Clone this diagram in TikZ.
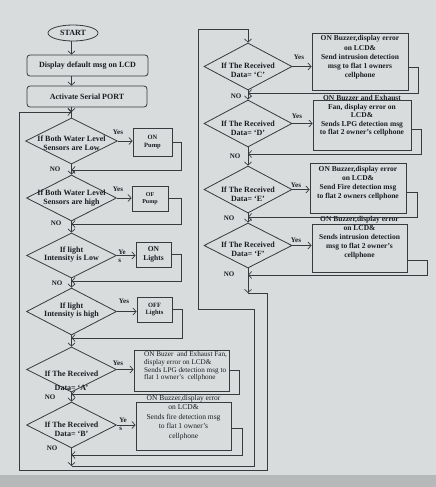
\documentclass[tikz,border=0pt]{standalone}
\usepackage{fontspec}
\setmainfont{Liberation Serif}
\usetikzlibrary{arrows.meta,shapes.geometric}
\definecolor{fcpaper}{RGB}{217,220,220}
\definecolor{fcedge}{RGB}{182,184,186}
\definecolor{fcline}{RGB}{55,58,62}
\definecolor{fcink}{RGB}{28,28,36}

\begin{document}
\begin{tikzpicture}[x=1pt,y=-1pt,
  terminal/.style={ellipse,draw=fcline,line width=0.8pt,minimum width=50pt,minimum height=16pt,inner sep=0pt,
     font=\bfseries\fontsize{8}{9}\selectfont,text=fcink},
  procbox/.style={draw=fcline,line width=0.8pt,rounded corners=3pt,minimum height=21pt,inner sep=0pt,
     font=\bfseries\fontsize{8}{9}\selectfont,text=fcink},
  decision/.style={diamond,draw=fcline,line width=0.8pt,inner sep=0pt,minimum width=90pt,minimum height=46pt},
  dtext/.style={align=center,font=\bfseries\fontsize{8}{8.6}\selectfont,text=fcink},
  smallbox/.style={draw=fcline,line width=0.8pt,inner sep=0pt,align=center,text=fcink},
  msgbox/.style={draw=fcline,line width=0.8pt,inner sep=0pt},
  msgtxt/.style={align=center,font=\bfseries\fontsize{7.5}{9}\selectfont,text=fcink},
  flow/.style={-{Straight Barb[length=3.2pt,width=7pt]},draw=fcline,line width=0.7pt},
  link/.style={draw=fcline,line width=0.7pt},
  ans/.style={font=\bfseries\fontsize{7}{8}\selectfont,text=fcink,inner sep=0pt}
]
\fill[fcpaper] (0,0) rectangle (436,487);
\fill[fcedge] (0,475) rectangle (436,487);
\useasboundingbox (0,0) rectangle (436,487);

\node[terminal] (start) at (73,33) {START};
\node[procbox,minimum width=121pt] (disp) at (87.5,65.5) {Display default msg on LCD};
\node[procbox,minimum width=120pt] (serial) at (87,96.5) {Activate Serial PORT};

\node[decision,minimum width=92pt,label={[dtext,yshift=-2pt]center:{If Both Water Level\\Sensors are Low}}] (lowlvl) at (71.5,141) {};
\node[decision,label={[dtext]center:{If Both Water Level\\Sensors are high}}] (highlvl) at (71.5,198) {};
\node[decision,minimum height=45pt,label={[dtext,yshift=1pt]center:{If light\\Intensity is Low}}] (lowlux) at (71.5,255.5) {};
\node[decision,minimum height=47pt,label={[dtext,yshift=1pt]center:{If light\\Intensity is high}}] (highlux) at (71.5,311.5) {};
\node[decision,minimum height=45pt,label={[dtext,yshift=-11pt]center:{If The Received\\[5pt]Data= `A'}}] (dataA) at (71.5,369.5) {};
\node[decision,label={[dtext,yshift=-4pt]center:{If The Received\\Data= `B'}}] (dataB) at (71.5,425) {};

\node[smallbox,minimum width=39pt,minimum height=28pt,font=\bfseries\fontsize{6.5}{8}\selectfont] (pumpon) at (152.5,142) {ON\\Pump};
\node[smallbox,minimum width=36pt,minimum height=25pt,font=\bfseries\fontsize{6}{7}\selectfont] (pumpoff) at (150,198.5) {OF\\Pump};
\node[smallbox,minimum width=35pt,minimum height=25pt,font=\bfseries\fontsize{7.5}{9}\selectfont] (lighton) at (153.5,254.5) {ON\\Lights};
\node[smallbox,minimum width=35pt,minimum height=25pt,font=\bfseries\fontsize{6.5}{7.5}\selectfont] (lightoff) at (154.5,309.5) {OFF\\Lights};
\node[msgbox,minimum width=95pt,minimum height=41pt,
  label={[msgtxt,align=left,font=\fontsize{7.2}{7.7}\selectfont,anchor=west,xshift=7pt,yshift=4pt]west:{ON Buzer\ \ and Exhaust Fan,\\display error on LCD\&\\Sends LPG detection msg to\\flat 1 owner's\ \ cellphone}}] (lpgA) at (181.5,370.5) {};
\node[msgbox,minimum width=95pt,minimum height=48pt,
  label={[msgtxt,font=\fontsize{7.5}{9.4}\selectfont,yshift=8.5pt]center:{ON Buzzer,display error\\on LCD\&\\Sends fire detection msg\\to flat 1 owner's\\cellphone}}] (fireB) at (183.5,426) {};

\node[decision,minimum width=88pt,minimum height=47pt,label={[dtext,yshift=-4pt]center:{If The Received\\Data= `C'}}] (dataC) at (248,66.5) {};
\node[decision,minimum width=88pt,minimum height=47pt,label={[dtext,yshift=-4.5pt]center:{If The Received\\Data= `D'}}] (dataD) at (248,123.5) {};
\node[decision,minimum width=88pt,minimum height=47pt,label={[dtext,yshift=-4.5pt]center:{If The Received\\Data= `E'}}] (dataE) at (248,189.5) {};
\node[decision,minimum width=88pt,minimum height=45pt,label={[dtext,yshift=-3.5pt]center:{If The Received\\Data= `F'}}] (dataF) at (248,245.5) {};

\node[msgbox,minimum width=96pt,minimum height=57pt,
  label={[msgtxt,font=\bfseries\fontsize{7.5}{9.2}\selectfont,yshift=4pt]center:{ON Buzzer,display error\\on LCD\&\\Send intrusion detection\\msg to flat 1 owners\\cellphone}}] (intrC) at (360,61.5) {};
\node[msgbox,minimum width=98pt,minimum height=50pt,
  label={[msgtxt,font=\bfseries\fontsize{7.5}{8.5}\selectfont,yshift=9pt]center:{ON Buzzer and Exhaust\\Fan, display error on\\LCD\&\\Sends LPG detection msg\\to flat 2 owner's cellphone}}] (lpgD) at (362,125) {};
\node[msgbox,minimum width=96pt,minimum height=50pt,
  label={[msgtxt,yshift=4.5pt]center:{ON Buzzer,display error\\on LCD\&\\Send Fire detection msg\\to flat 2 owners cellphone}}] (fireE) at (358,188) {};
\node[msgbox,minimum width=95pt,minimum height=48pt,
  label={[msgtxt,yshift=10pt]center:{ON Buzzer,display error\\on LCD\&\\Sends intrusion detection\\msg to flat 2 owner's\\cellphone}}] (intrF) at (359.5,248) {};

\node[ans] (yes1) at (118,132) {Yes};
\node[ans] (yes2) at (118,189) {Yes};
\node[ans,align=left] (yes3) at (122,256) {Ye\\s};
\node[ans] (yes4) at (124,301) {Yes};
\node[ans] (yes5) at (118,363) {Yes};
\node[ans,align=left] (yes6) at (123,424) {Ye\\s};
\node[ans] (yes7) at (299,57) {Yes};
\node[ans] (yes8) at (297,116) {Yes};
\node[ans] (yes9) at (296,185) {Yes};
\node[ans] (yes10) at (296,240) {Yes};
\node[ans] (no1) at (55,169) {NO};
\node[ans] (no2) at (56,223) {NO};
\node[ans] (no3) at (57,283) {NO};
\node[ans] (no5) at (50,397) {NO};
\node[ans] (no6) at (52,448) {NO};
\node[ans] (no7) at (236,96) {NO};
\node[ans] (no8) at (235,156) {NO};
\node[ans] (no9) at (229,218) {NO};
\node[ans] (no10) at (229,274) {NO};

\coordinate (j0) at (71.5,112);
\coordinate (j1) at (71.5,170);
\coordinate (j2) at (71.5,224);
\coordinate (j3) at (71.5,281);
\coordinate (j4) at (71.5,338);
\coordinate (j5) at (71.5,394);
\coordinate (j6) at (71.5,455);
\coordinate (jA) at (71.5,466);
\coordinate (k7) at (248,93);
\coordinate (k8) at (248,154);
\coordinate (k9) at (248,217);
\coordinate (k10) at (248,275);
\coordinate (jF) at (248,293);

\draw[flow] (start.south -| lowlvl) -- (disp.north -| lowlvl);
\draw[flow] (disp.south -| lowlvl) -- (serial.north -| lowlvl);
\draw[flow] (serial.south -| lowlvl) -- (j0);
\draw[link] (j0) -- (lowlvl.north);
\draw[flow] (lowlvl.south) -- (highlvl.north);
\draw[flow] (highlvl.south) -- (lowlux.north);
\draw[flow] (lowlux.south) -- (highlux.north);
\draw[flow] (highlux.south) -- (dataA.north);
\draw[flow] (dataA.south) -- (dataB.north);
\draw[flow] (dataB.south) -- (jA);
\draw[flow] (dataC.south) -- (dataD.north);
\draw[flow] (dataD.south) -- (dataE.north);
\draw[flow] (dataE.south) -- (dataF.north);
\draw[flow] (dataF.south) -- (jF);

\draw[flow] (lowlvl.east) -- (lowlvl.east -| pumpon.west);
\draw[flow] (highlvl.east) -- (highlvl.east -| pumpoff.west);
\draw[flow] (lowlux.east) -- (lowlux.east -| lighton.west);
\draw[flow] (highlux.east) -- (highlux.east -| lightoff.west);
\draw[flow] (dataA.east) -- (dataA.east -| lpgA.west);
\draw[flow] (dataB.east) -- (dataB.east -| fireB.west);
\draw[flow] (dataC.east) -- (dataC.east -| intrC.west);
\draw[flow] (dataD.east) -- (dataD.east -| lpgD.west);
\draw[flow] (dataE.east) -- (dataE.east -| fireE.west);
\draw[flow] (dataF.east) -- (dataF.east -| intrF.west);

\draw[flow] (pumpon.east) -- ++(9,0) |- (j1);
\draw[flow] (pumpoff.east) -- ++(13,0) |- (j2);
\draw[flow] (lighton.east) -- ++(10,0) |- (j3);
\draw[flow] (lightoff.east) -- ++(10,0) |- (j4);
\draw[flow] (lpgA.east) -- ++(10,0) |- (j5);
\draw[flow] ([yshift=-2pt]fireB.east) -- ++(11,0) |- (j6);
\draw[flow] ([yshift=-6pt]intrC.east) -- ++(10,0) |- (k7);
\draw[flow] ([yshift=-4pt]lpgD.east) -- ++(10,0) |- (k8);
\draw[flow] ([yshift=-4pt]fireE.east) -- ++(11,0) |- (k9);
\draw[flow] ([yshift=-12pt]intrF.east) -- ++(20,0) |- (k10);

\draw[flow] (jA) -- (254,466) |- (198,309) -- (198,29) -| (dataC.north);
\draw[flow] (jF) -| (267,470) -| (19,112) -- (j0);
\end{tikzpicture}
\end{document}
